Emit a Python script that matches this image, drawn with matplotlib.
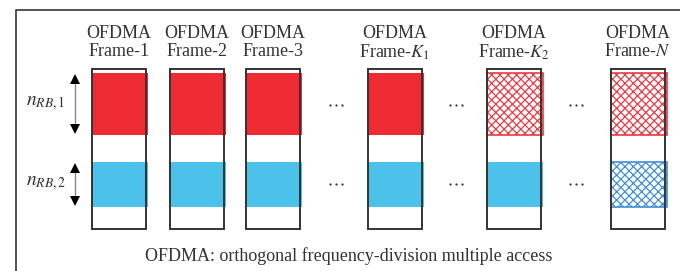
import matplotlib
matplotlib.use("Agg")
from matplotlib import pyplot as plt
from matplotlib.patches import Rectangle

plt.rcParams['font.family'] = ['Liberation Serif', 'DejaVu Serif']
plt.rcParams['mathtext.fontset'] = 'stix'
plt.rcParams['hatch.linewidth'] = 0.9

# data
frame_labels = ["Frame-1", "Frame-2", "Frame-3", r"Frame-$K_1$", r"Frame-$K_2$", r"Frame-$N$"]
red_hatched = [False, False, False, False, True, True]
blue_hatched = [False, False, False, False, False, True]
band_labels = [r"$n_{RB,1}$", r"$n_{RB,2}$"]
caption = "OFDMA: orthogonal frequency-division multiple access"

# layout (pixels)
frame_x = [92, 170, 246, 368, 487, 611]
dots_x = [336, 456, 576]
box_w = 54
box_top, box_bot = 69, 229
red_top, red_bot = 73, 135
blue_top, blue_bot = 162, 207
red = "#ee2b33"
blue = "#4cc1e9"
red_h = "#ee3a42"
blue_h = "#3f8fd6"
txt = "#333333"

fig = plt.figure(figsize=(6.8, 2.71), dpi=100)
ax = fig.add_axes([0, 0, 1, 1])
ax.set_xlim(0, 680)
ax.set_ylim(271, 0)
ax.axis("off")

# outer frame
ax.plot([16, 16, 680], [271, 10, 10], color="#444444", lw=1.3, solid_capstyle="butt")

for x, lab, rh, bh in zip(frame_x, frame_labels, red_hatched, blue_hatched):
    cx = x + box_w / 2
    if rh:
        ax.add_patch(Rectangle((x, red_top), box_w + 2, red_bot - red_top, facecolor="white",
                               edgecolor=red_h, hatch="xxxx", lw=1.2))
    else:
        ax.add_patch(Rectangle((x, red_top), box_w + 2, red_bot - red_top, facecolor=red, lw=0))
    if bh:
        ax.add_patch(Rectangle((x, blue_top), box_w + 2, blue_bot - blue_top, facecolor="white",
                               edgecolor=blue_h, hatch="xxxx", lw=1.2))
    else:
        ax.add_patch(Rectangle((x, blue_top), box_w + 2, blue_bot - blue_top, facecolor=blue, lw=0))
    ax.add_patch(Rectangle((x, box_top), box_w, box_bot - box_top, fill=False,
                           edgecolor=txt, lw=1.4))
    ax.text(cx, 34, "OFDMA", ha="center", va="center", fontsize=13, color=txt)
    ax.text(cx, 52, lab, ha="center", va="center", fontsize=13, color=txt)

for dx in dots_x:
    for dy in [105, 184]:
        ax.plot([dx - 6, dx, dx + 6], [dy, dy, dy], ls="none", marker="o", ms=1.6,
                color=txt, markeredgewidth=0)

# arrows
for (t, b), lab in zip([(red_top, red_bot), (blue_top, blue_bot)], band_labels):
    ax.plot([75, 75], [t + 5, b - 5], color="#888888", lw=1)
    ax.plot(75, t + 6, marker="^", color="black", ms=7, markeredgewidth=0)
    ax.plot(75, b - 6, marker="v", color="black", ms=7, markeredgewidth=0)
    ax.text(46, (t + b) / 2 - 1, lab, ha="center", va="center", fontsize=14, color=txt)

ax.text(349, 256, caption, ha="center", va="center", fontsize=13, color=txt)

fig.savefig("out.png", dpi=100)
